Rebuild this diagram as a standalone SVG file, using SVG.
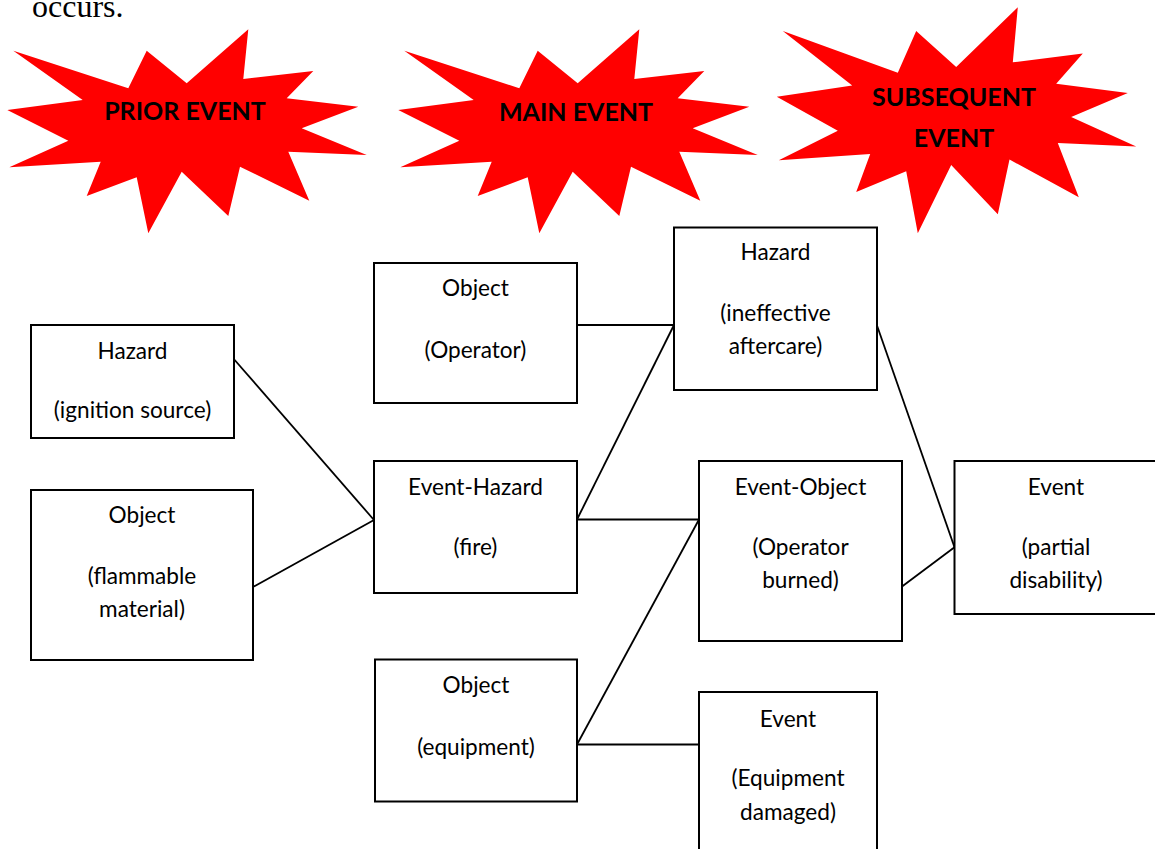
<svg xmlns="http://www.w3.org/2000/svg" width="1155" height="849" viewBox="0 0 1155 849">
  <style>
    .box { fill: #ffffff; stroke: #000000; stroke-width: 2; }
    .lbl { font-family: Lato, "Open Sans", "Liberation Sans", sans-serif; font-size: 22.6px; fill: #000000; text-anchor: middle; }
    .burst { fill: #ff0000; stroke: none; }
    .burst-lbl { font-family: Lato, "Liberation Sans", sans-serif; font-weight: bold; font-size: 25px; fill: #000000; text-anchor: middle; }
    .link { stroke: #000000; stroke-width: 1.8; fill: none; }
    .prose { font-family: "Liberation Serif", "Times New Roman", serif; font-size: 32px; fill: #000000; }
  </style>
  <defs>
    <!-- explosion outline, 12 spikes -->
    <path id="explosion" d="M13.3,50.7 L128.3,88.3 L146.7,50.7 L186.7,83.3 L248.3,29.3 L243.3,79 L313.3,71 L286.7,98.3 L358.3,106.7 L301.7,128.3 L366.7,155 L288.3,151.7 L309.3,200.7 L240,166.7 L228.3,216 L181.7,171.7 L148.3,233.3 L136.7,177.3 L86.7,196 L100.7,161.7 L9.3,167.3 L68.3,140.7 L7.3,110 L82.7,100 Z"/>
  </defs>

  <rect width="1155" height="849" fill="#ffffff"/>

  <!-- tail of the preceding paragraph -->
  <text class="prose" x="32" y="17">occurs.</text>

  <!-- stage headers -->
  <g id="prior-event">
    <use href="#explosion" class="burst"/>
    <text class="burst-lbl" x="185" y="120">PRIOR EVENT</text>
  </g>
  <g id="main-event">
    <use href="#explosion" class="burst" transform="translate(391,0)"/>
    <text class="burst-lbl" x="576" y="120.5">MAIN EVENT</text>
  </g>
  <g id="subsequent-event">
    <use href="#explosion" class="burst" transform="translate(769.5,233.3) scale(1,1.108) translate(0,-233.3)"/>
    <text class="burst-lbl" x="954" y="106">SUBSEQUENT</text>
    <text class="burst-lbl" x="954" y="146.5">EVENT</text>
  </g>

  <!-- connectors -->
  <g id="connectors">
    <line class="link" x1="232.5" y1="357.5" x2="374" y2="520"/>
    <line class="link" x1="253" y1="587" x2="374" y2="520"/>
    <line class="link" x1="577" y1="325" x2="674" y2="325"/>
    <line class="link" x1="577" y1="519.5" x2="674" y2="325"/>
    <line class="link" x1="577" y1="519.5" x2="699" y2="519.5"/>
    <line class="link" x1="577" y1="744.5" x2="699" y2="519.5"/>
    <line class="link" x1="577" y1="744.5" x2="699" y2="744.5"/>
    <line class="link" x1="877" y1="325.5" x2="954.5" y2="547.3"/>
    <line class="link" x1="901.7" y1="586.7" x2="954.5" y2="547.3"/>
  </g>

  <!-- prior event factors -->
  <g id="hazard-ignition">
    <rect class="box" x="31" y="325" width="203" height="113"/>
    <text class="lbl" x="132.5" y="359">Hazard</text>
    <text class="lbl" x="132.5" y="418">(ignition source)</text>
  </g>
  <g id="object-flammable">
    <rect class="box" x="31" y="490" width="222" height="170"/>
    <text class="lbl" x="142" y="523">Object</text>
    <text class="lbl" x="142" y="584">(flammable</text>
    <text class="lbl" x="142" y="617">material)</text>
  </g>

  <!-- main event factors -->
  <g id="object-operator">
    <rect class="box" x="374" y="263" width="203" height="140"/>
    <text class="lbl" x="475.5" y="296">Object</text>
    <text class="lbl" x="475.5" y="357.5">(Operator)</text>
  </g>
  <g id="event-hazard-fire">
    <rect class="box" x="374" y="461" width="203" height="132"/>
    <text class="lbl" x="475.5" y="494.5">Event-Hazard</text>
    <text class="lbl" x="475.5" y="555">(fire)</text>
  </g>
  <g id="object-equipment">
    <rect class="box" x="375" y="659.5" width="202" height="142"/>
    <text class="lbl" x="476" y="693">Object</text>
    <text class="lbl" x="476" y="755">(equipment)</text>
  </g>

  <!-- subsequent event factors -->
  <g id="hazard-aftercare">
    <rect class="box" x="674" y="227.5" width="203" height="162.5"/>
    <text class="lbl" x="775.5" y="260">Hazard</text>
    <text class="lbl" x="775.5" y="321">(ineffective</text>
    <text class="lbl" x="775.5" y="354">aftercare)</text>
  </g>
  <g id="event-object-burned">
    <rect class="box" x="699" y="461" width="203" height="180"/>
    <text class="lbl" x="800.5" y="495">Event-Object</text>
    <text class="lbl" x="800.5" y="555">(Operator</text>
    <text class="lbl" x="800.5" y="588">burned)</text>
  </g>
  <g id="event-equipment-damaged">
    <rect class="box" x="699" y="692" width="178" height="170"/>
    <text class="lbl" x="788" y="727">Event</text>
    <text class="lbl" x="788" y="786">(Equipment</text>
    <text class="lbl" x="788" y="820">damaged)</text>
  </g>
  <g id="event-disability">
    <rect class="box" x="954.5" y="461" width="203" height="153"/>
    <text class="lbl" x="1056" y="495">Event</text>
    <text class="lbl" x="1056" y="555">(partial</text>
    <text class="lbl" x="1056" y="588">disability)</text>
  </g>
</svg>
